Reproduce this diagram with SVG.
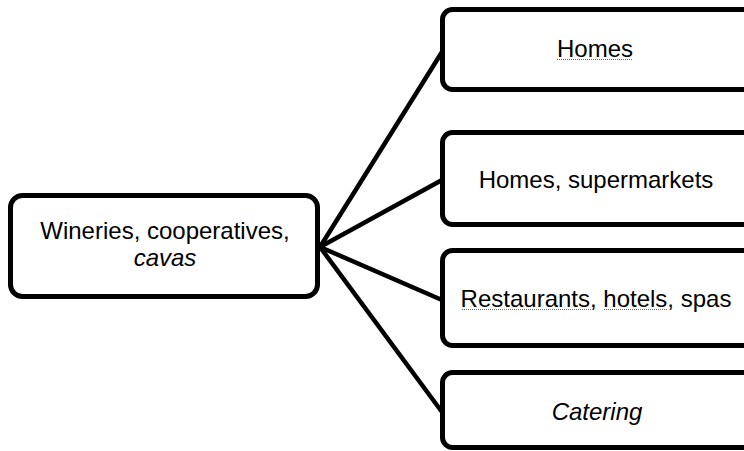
<svg xmlns="http://www.w3.org/2000/svg" width="744" height="451" viewBox="0 0 744 451">
<style>
.box{fill:#fff;stroke:#000;stroke-width:5}
.lbl{font-family:"Liberation Sans",Arial,sans-serif;font-size:24px;fill:#000;text-anchor:middle}
.it{font-style:italic}
.conn{stroke:#000;stroke-width:4.5;fill:none;stroke-linecap:round}
.sq{stroke:#e04040;stroke-width:1;fill:none;stroke-dasharray:1 1}
</style>
<rect width="744" height="451" fill="#fff"/>
<g id="connectors">
<line class="conn" x1="320" y1="247" x2="442" y2="52"/>
<line class="conn" x1="320" y1="247" x2="442" y2="180"/>
<line class="conn" x1="320" y1="247" x2="442" y2="300"/>
<line class="conn" x1="320" y1="247" x2="442" y2="412"/>
</g>
<g id="source">
<rect class="box" x="10.5" y="195.5" width="307" height="101" rx="12"/>
<text class="lbl" x="165" y="239">Wineries, cooperatives,</text>
<text class="lbl it" x="165" y="266">cavas</text>
</g>
<g id="homes">
<rect class="box" x="442.5" y="9.5" width="320" height="80" rx="10"/>
<text class="lbl" x="595" y="57">Homes</text>
<path class="sq" d="M557 59.5 H633"/>
</g>
<g id="homes-supermarkets">
<rect class="box" x="442.5" y="132.5" width="320" height="92" rx="10"/>
<text class="lbl" x="596" y="188">Homes, supermarkets</text>
</g>
<g id="restaurants">
<rect class="box" x="442.5" y="250.5" width="320" height="95" rx="10"/>
<text class="lbl" x="596" y="307">Restaurants, hotels, spas</text>
<path class="sq" d="M462 309.5 H591 M604 309.5 H668"/>
</g>
<g id="catering">
<rect class="box" x="442.5" y="372.5" width="320" height="75" rx="10"/>
<text class="lbl it" x="597" y="420">Catering</text>
</g>
</svg>
